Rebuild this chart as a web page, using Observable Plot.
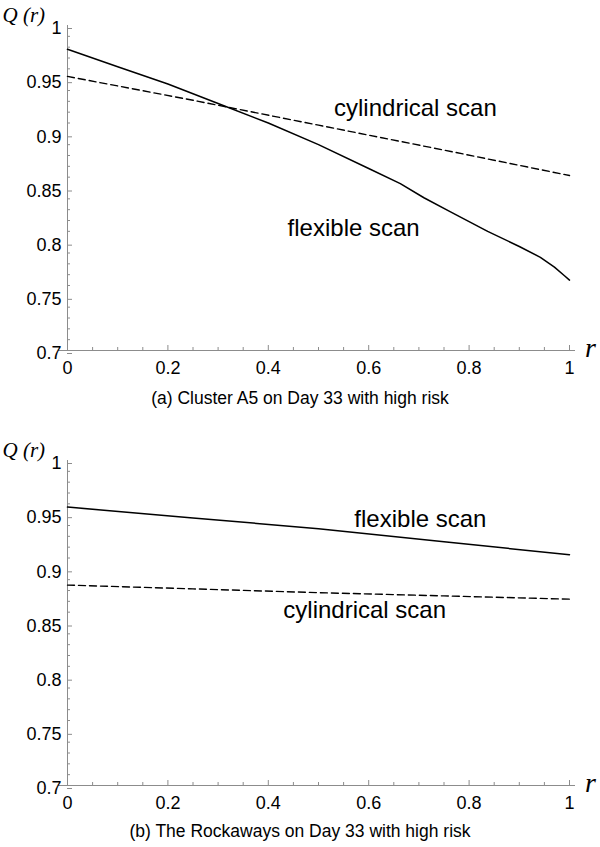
<!DOCTYPE html>
<html>
<head>
<meta charset="utf-8">
<script src="https://cdn.jsdelivr.net/npm/d3@7"></script>
<script src="https://cdn.jsdelivr.net/npm/@observablehq/plot@0.6"></script>
<style>
  html, body { margin: 0; padding: 0; background: #fff; }
  body { width: 600px; font-family: "Liberation Sans", Arial, sans-serif; color: #000; }
  .caption { text-align: center; font-size: 17.5px; }
  #cap1 { height: 54px; line-height: 36px; }
  #cap2 { height: 32px; line-height: 32px; }
  svg { display: block; }
</style>
</head>
<body>
<div id="p1"></div>
<div id="cap1" class="caption">(a) Cluster A5 on Day 33 with high risk</div>
<div id="p2"></div>
<div id="cap2" class="caption">(b) The Rockaways on Day 33 with high risk</div>
<script>
// ---- Data ----
// Panel (a): Cluster A5 on Day 33
const aFlexR = [0, 0.1, 0.2, 0.3, 0.4, 0.5, 0.6, 0.663, 0.71, 0.763, 0.837, 0.9, 0.942, 0.97, 0.99, 1];
const aFlexQ = [0.978, 0.962, 0.946, 0.928, 0.910, 0.890, 0.868, 0.854, 0.841, 0.828, 0.810, 0.796, 0.786, 0.777, 0.769, 0.765];
const aCylR = [0, 0.25, 0.5, 0.75, 1];
const aCylQ = [0.953, 0.931, 0.908, 0.885, 0.8615];
// Panel (b): The Rockaways on Day 33
const bFlexR = [0, 0.25, 0.5, 0.75, 1];
const bFlexQ = [0.957, 0.947, 0.937, 0.925, 0.913];
const bCylR = [0, 0.25, 0.5, 0.75, 1];
const bCylQ = [0.885, 0.8815, 0.878, 0.875, 0.872];

// Curve labels
const labelText = ["cylindrical scan", "flexible scan"];
const aLabelR = [0.693, 0.570];
const aLabelQ = [0.924, 0.8126];
const bLabelR = [0.592, 0.703];
const bLabelQ = [0.862, 0.946];

// Ticks
const xMajor = [0, 0.2, 0.4, 0.6, 0.8, 1];
const xMinor = [0.05, 0.1, 0.15, 0.25, 0.3, 0.35, 0.45, 0.5, 0.55, 0.65, 0.7, 0.75, 0.85, 0.9, 0.95];
const yMajor = [0.7, 0.75, 0.8, 0.85, 0.9, 0.95, 1];
const yMinor = [0.71, 0.72, 0.73, 0.74, 0.76, 0.77, 0.78, 0.79, 0.81, 0.82, 0.83, 0.84,
                0.86, 0.87, 0.88, 0.89, 0.91, 0.92, 0.93, 0.94, 0.96, 0.97, 0.98, 0.99];

const FONT = "Liberation Sans, Arial, sans-serif";
const SERIF = "Liberation Serif, Times New Roman, serif";
const AXIS = "#8c8c8c";
const fmt = d => String(+(+d).toFixed(2));

function pts(R, Q) { return R.map((r, i) => ({r, q: Q[i]})); }

function panel(flexR, flexQ, cylR, cylQ, labR, labQ, marginTop) {
  const labels = labelText.map((t, i) => ({t, r: labR[i], q: labQ[i]}));
  return Plot.plot({
    width: 600,
    height: marginTop + 325 + 30,
    marginLeft: 67,
    marginRight: 31,
    marginTop,
    marginBottom: 30,
    style: {fontFamily: FONT, color: "#000", background: "#fff"},
    x: {domain: [0, 1]},
    y: {domain: [0.7, 1]},
    marks: [
      Plot.ruleX([0], {stroke: AXIS, strokeWidth: 1}),
      Plot.ruleY([0.7], {stroke: AXIS, strokeWidth: 1, insetLeft: -9, insetRight: -6}),
      Plot.axisY(yMinor, {tickSize: -3, tickFormat: () => "", stroke: AXIS, label: null}),
      Plot.axisY(yMajor, {tickSize: -5, tickPadding: 11, tickFormat: fmt, stroke: AXIS, fill: "#000", fontSize: 18, dy: 3, label: null}),
      Plot.axisX(xMinor, {tickSize: -3, tickFormat: () => "", stroke: AXIS, label: null}),
      Plot.axisX(xMajor, {tickSize: -5, tickPadding: 16, tickFormat: fmt, stroke: AXIS, fill: "#000", fontSize: 18, label: null}),
      Plot.line(pts(cylR, cylQ), {x: "r", y: "q", stroke: "#000", strokeWidth: 1.4, strokeDasharray: "7,4"}),
      Plot.line(pts(flexR, flexQ), {x: "r", y: "q", stroke: "#000", strokeWidth: 1.5}),
      Plot.text(labels, {x: "r", y: "q", text: "t", fontSize: 24, fill: "#000", fontFamily: FONT}),
      Plot.text(["Q (r)"], {frameAnchor: "top-left", textAnchor: "start", lineAnchor: "middle", dx: -65, dy: -10, fontSize: 21, fontStyle: "italic", fontFamily: SERIF, fill: "#000"}),
      Plot.text(["r"], {frameAnchor: "bottom-right", textAnchor: "middle", lineAnchor: "middle", dx: 21, dy: -2, fontSize: 28, fontStyle: "italic", fontFamily: SERIF, fill: "#000"})
    ]
  });
}

document.getElementById("p1").append(panel(aFlexR, aFlexQ, aCylR, aCylQ, aLabelR, aLabelQ, 25));
document.getElementById("p2").append(panel(bFlexR, bFlexQ, bCylR, bCylQ, bLabelR, bLabelQ, 26));
</script>
</body>
</html>
